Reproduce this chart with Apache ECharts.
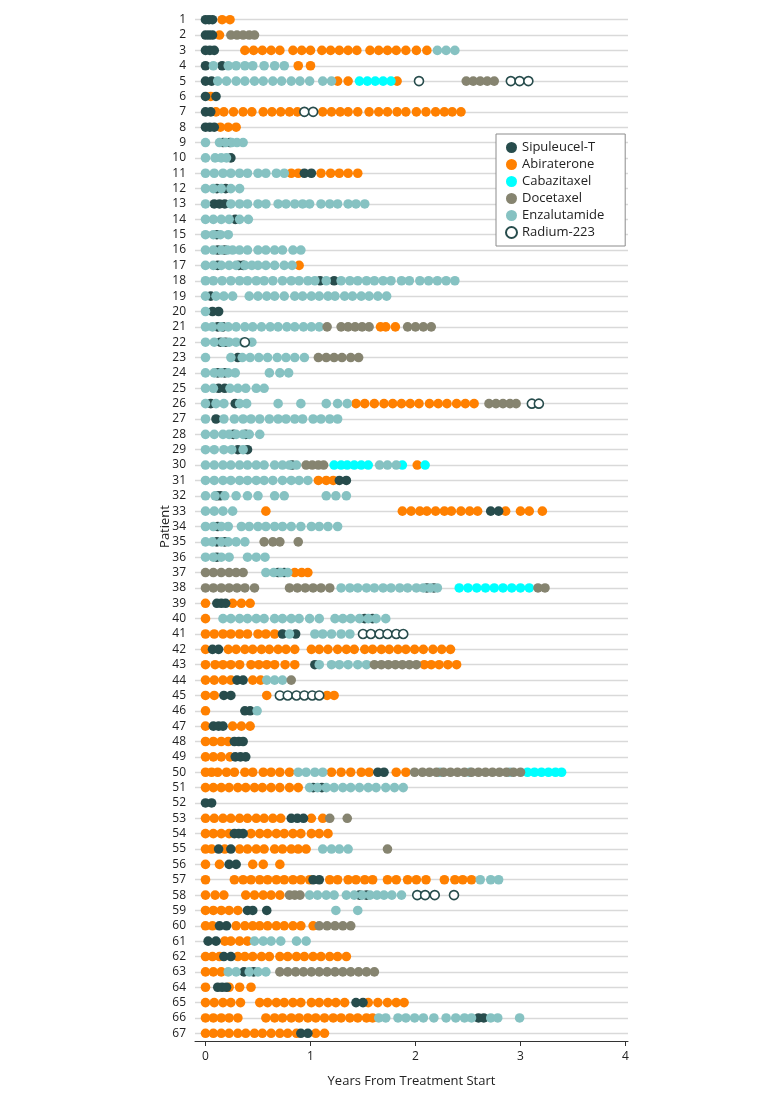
<!DOCTYPE html>
<html><head><meta charset="utf-8">
<script src="https://cdn.jsdelivr.net/npm/echarts@6/dist/echarts.min.js"></script>
<style>html,body{margin:0;padding:0;background:#fff}#chart{width:780px;height:1099px}</style>
</head><body><div id="chart"></div>
<script>
// Patient row labels (y axis) and x tick labels (years)
const patients = [1,2,3,4,5,6,7,8,9,10,11,12,13,14,15,16,17,18,19,20,21,22,23,24,25,26,27,28,29,30,31,32,33,34,35,36,37,38,39,40,41,42,43,44,45,46,47,48,49,50,51,52,53,54,55,56,57,58,59,60,61,62,63,64,65,66,67];
const xTicks = [0,1,2,3,4];

// Each entry: [patient, [visit times in months from treatment start]]
const sipuleucelT = [
[1,[0,0.4,0.8]],[2,[0,0.4,0.8]],[3,[0,0.5,1]],[4,[0,1.9]],[5,[0,0.7]],[6,[0,1.2]],[7,[0,0.6]],[8,[0,0.5,1]],
[9,[2.0,2.8]],[10,[2.9]],[11,[11.3,12.1]],[12,[1.3,2.3]],[13,[1,1.6,2.2]],[14,[3.4]],[15,[1.3]],[16,[1.4,2.2]],
[17,[1.4,3.8,4.3]],[18,[13.1,14.7]],[19,[0.6]],[20,[0.8,1.5]],[21,[1.4,2.0]],[22,[1.7,2.3]],[23,[3.7]],[24,[1.4,2.2]],
[25,[1.5,2.2]],[26,[0.6,3.4]],[27,[1.2]],[28,[3.2,4.6]],[29,[3.7,4.8]],[30,[9.9]],[31,[15.3,16.1]],[32,[1.3,1.7]],
[33,[32.6,33.5]],[34,[1.4]],[35,[1.3,2.2]],[36,[1.3]],[37,[8.3,9.0]],[38,[25.3,26.1]],[39,[1.3,1.8,2.3]],[40,[18.2,19.1]],
[41,[8.8,10.3]],[42,[0.8,1.5]],[43,[12.5]],[44,[3.6,4.3]],[45,[2.1,2.9]],[46,[4.5,5.1]],[47,[0.9,1.5,2.0]],[48,[3.3,3.8,4.3]],
[49,[3.4,4.0,4.6]],[50,[19.7,20.4]],[51,[12.3,13.3]],[52,[0,0.7]],[53,[9.8,10.5,11.2]],[54,[3.3,3.8,4.3]],[55,[1.5,2.9]],
[56,[2.7,3.5]],[57,[12.3,13.0]],[58,[17.6,18.4]],[59,[4.8,5.4,7]],[60,[1.6,2.4]],[61,[0.3,1.2]],[62,[2.1,2.9]],
[63,[4.4,5.5]],[64,[1.4,1.9,2.4]],[65,[17.2,18.0]],[66,[31.2,31.8]],[67,[10.9,11.7]]
];

const abiraterone = [
[1,[1.9,2.8]],[2,[1.6]],
[3,[4.5,5.5,6.5,7.5,8.5,10,11,12,13.3,14.3,15.3,16.3,17.3,18.8,19.8,20.8,21.8,22.9,24.1,25.3]],
[4,[10.6,12]],[5,[15.1,16.3,21.9]],[6,[0.6]],
[7,[1.2,2.1,3.2,4.3,5.3,6.6,7.6,8.6,9.6,10.5,13.4,14.4,15.4,16.3,17.4,18.7,19.8,20.8,21.9,22.9,24.1,25.2,26.3,27.3,28.2,29.2]],
[8,[1.7,2.6,3.5]],[11,[9.8,10.6,13.2,14.3,15.3,16.3,17.4]],[17,[10.7]],[21,[20.0,20.6,21.7]],
[26,[17.2,18.2,19.3,20.4,21.4,22.4,23.4,24.4,25.6,26.6,27.6,28.7,29.7,30.7]],
[30,[24.2]],[31,[12.9,13.8,14.6]],
[33,[6.9,22.5,23.5,24.5,25.3,26.3,27.3,28.1,29.2,30.2,31.1,34.3,36,37,38.5]],
[37,[10.2,11,11.7]],[39,[0,3.1,4.1,5.1]],[40,[0]],[41,[0,1,2,2.9,3.9,4.8,6,6.9,7.9]],
[42,[0,2.6,3.5,4.5,5.4,6.4,7.3,8.3,9.2,10.2,12.1,13,14,15.1,16.1,17,18.2,19.1,20.1,21,22,22.9,23.9,24.9,26,27,28]],
[43,[0,1.1,2,2.9,3.9,5.2,6.1,7,7.9,9.1,10.2,25,25.8,26.7,27.7,28.7]],
[44,[0,1,2,2.9,5.4,6.3]],[45,[0,1,7,13.9,14.7]],[46,[0]],[47,[0,3.1,4.1,5.1]],[48,[0,0.9,1.8,2.6]],[49,[0,0.9,1.8,2.8]],
[50,[0,0.7,1.4,2.4,3.3,4.5,5.4,6.6,7.5,8.5,9.6,14.4,15.5,16.6,17.8,18.7,21.8,22.9]],
[51,[0,0.9,1.8,2.7,3.7,4.6,5.6,6.5,7.5,8.5,9.6,10.6]],
[53,[0,1,2,2.9,3.9,4.8,5.8,6.7,7.7,8.6,12.1,13.4]],
[54,[0,0.9,1.8,2.7,5.2,6.2,7.1,8.1,9,10,10.9,12.1,13,14]],
[55,[0,0.7,2.2,3.9,4.8,5.8,6.7,7.9,8.8,9.8,10.6,11.5]],
[56,[0,1.6,5.4,6.6,8.5]],
[57,[0,3.3,4.3,5.2,6.2,7.1,8.1,9,10,10.9,11.9,14.2,15.1,16.3,17.2,18.2,19.1,20.8,21.8,23.1,24.1,25.2,27.3,28.5,29.4,30.4]],
[58,[0,1.1,2.1,4.6,5.6,6.6,7.5,8.5]],[59,[0,0.9,1.8,2.7,3.7]],
[60,[0,0.8,3.5,4.5,5.4,6.2,7.1,8.1,9,10,10.9,12.3]],[61,[2.2,2.9,3.9,4.8]],
[62,[0,0.8,1.6,3.7,4.5,5.4,6.4,7.3,8.5,9.4,10.4,11.3,12.3,13.2,14.2,15.1,16.1]],
[63,[0,0.9,1.8]],[64,[0,2.7,3.9,5.2]],
[65,[0,1,2,2.9,4,6.2,7.1,8.1,9,10,10.9,12.1,13,14,14.9,15.9,18.6,19.7,20.8,21.8,22.7]],
[66,[0,0.9,1.8,2.7,3.7,6.9,7.9,8.8,9.8,10.7,11.7,12.6,13.6,14.6,15.5,16.5,17.4,18.4,19.1]],
[67,[0,0.9,1.8,2.7,3.7,4.6,5.6,6.5,7.5,8.5,9.4,10.4,12.6,13.6]]
];

const cabazitaxel = [
[5,[17.6,18.5,19.4,20.3,21.2]],
[30,[14.7,15.5,16.2,17,17.8,18.6,22.5,25.1]],
[38,[29,30,31,32,33,34,35,36,37]],
[50,[36.8,37.6,38.4,39.2,40,40.7]]
];

const docetaxel = [
[2,[2.9,3.6,4.3,5,5.6]],[5,[29.8,30.6,31.4,32.2,33]],
[21,[13.9,15.5,16.3,17.1,17.9,18.7,23.1,24,24.9,25.8]],
[23,[12.9,13.8,14.7,15.6,16.6,17.5]],[26,[32.4,33.2,34,34.8,35.5]],[30,[11.5,12.2,12.9,13.5]],
[35,[6.7,7.7,8.5,10.6]],[37,[0,0.9,1.8,2.7,3.5,4.3]],
[38,[0,0.9,1.8,2.7,3.6,4.5,5.6,9.6,10.5,11.4,12.3,13.2,14.2,38,38.8]],
[43,[19.3,20.1,20.9,21.7,22.5,23.3,24.1]],[44,[9.8]],
[50,[23.9,24.8,25.6,26.4,27.2,28,28.8,29.6,30.4,31.2,32,32.8,33.6,34.4,35.2,36]],
[53,[14.2,16.2]],[55,[20.8]],[58,[9.6,10.2,10.8]],[60,[13,13.9,14.8,15.7,16.6]],
[63,[8.5,9.4,10.3,11.2,12.1,13,13.9,14.8,15.7,16.6,17.5,18.4,19.3]]
];

const enzalutamide = [
[3,[26.5,27.5,28.5]],[4,[0.9,2.6,3.5,4.5,5.4,6.7,7.9,9.0]],
[5,[1.4,2.4,3.5,4.5,5.6,6.6,7.7,8.7,9.8,10.8,11.9,13.4,14.4]],
[9,[0,1.6,2.3,3.0,3.6,4.3]],[10,[0,1.1,1.8,2.4]],[11,[0,1,2,2.9,3.9,4.8,6,6.9,8.1,9.0]],
[12,[0,0.9,1.8,2.9,3.9]],
[13,[0,2.9,3.9,4.8,6,6.9,8.3,9.2,10.2,11.1,11.9,13.2,14.2,15.1,16.3,17.2,18.2]],
[14,[0,0.9,1.8,2.7,3.9,4.9]],[15,[0,0.9,1.7,2.6]],
[16,[0,0.9,1.8,2.5,3.1,3.9,4.8,6,6.9,7.9,8.8,10,10.9]],
[17,[0,0.9,1.8,2.7,3.5,4.5,5.3,6,6.9,7.9,9,9.9]],
[18,[0,0.9,1.9,2.9,3.9,4.8,5.8,6.7,7.7,8.8,9.8,10.7,11.7,12.5,13.8,15.5,16.5,17.4,18.4,19.3,20.3,21.2,22.4,23.3,24.5,25.5,26.5,27.5,28.5]],
[19,[0,1.2,2.1,3.1,5,6,7,7.9,9,10.2,11.1,12.1,13,14,14.8,15.9,16.8,17.8,18.7,19.7,20.7]],
[20,[0]],[21,[0,0.8,1.8,2.6,3.5,4.5,5.4,6.4,7.4,8.3,9.3,10.2,11.2,12.1,13.0]],
[22,[0,1,2,2.7,3.5,4.3,5.3]],[23,[0,2.9,4.2,5.1,6.1,7.1,8.2,9.2,10.2,11.3]],
[24,[0,1,1.8,2.6,3.4,7.3,8.5,9.5]],[25,[0,0.9,2.8,3.7,4.6,5.8,6.7]],
[26,[0,1.2,2.1,3.9,4.7,8.3,10.9,13.8,15.1,16.2]],
[27,[0,2.1,3.3,4.3,5.2,6.2,7.3,8.3,9.2,10.2,11.1,12.3,13.2,14.2,15.1]],
[28,[0,1,2,2.7,3.5,4.3,5,6.2]],[29,[0,1,2.1,3.0,4.3]],
[30,[0,1,2,2.9,3.9,4.8,5.8,6.7,7.9,8.8,9.6,10.4,19.9,20.8,21.8]],
[31,[0,1,2,2.9,3.9,4.8,5.8,6.7,7.7,8.8,9.8,10.7,11.7]],
[32,[0,1.1,2.2,3.5,4.8,6.0,7.9,9.0,13.8,14.9,16.1]],[33,[0,1,2,3.1]],
[34,[0,0.9,1.8,2.6,4.1,5,6,6.9,7.9,8.8,9.8,10.9,12.1,13,14,15.1]],
[35,[0,0.8,1.8,2.6,3.5,4.5]],[36,[0,0.9,1.8,2.7,4.8,5.8,6.8]],[37,[6.9,7.8,8.6,9.4]],
[38,[15.5,16.5,17.4,18.4,19.3,20.3,21.2,22.2,23.1,24.1,24.9,25.7,26.5]],
[40,[2,2.9,3.9,4.8,5.8,6.7,7.9,8.8,9.8,10.7,11.9,13,14.8,15.7,16.6,17.6,18.6,19.5,20.6]],
[41,[9.6,12.5,13.4,14.4,15.5,16.5]],[43,[13,14.4,15.3,16.3,17.4,18.4]],[44,[7,7.9,8.8]],[46,[5.9]],
[50,[10.6,11.5,12.5,13.4,26.8,30.2,34.8]],
[51,[11.9,12.8,13.8,14.7,15.7,16.6,17.6,18.6,19.5,20.6,21.6,22.6]],
[55,[13.4,14.4,15.3,16.3]],[57,[31.4,32.6,33.5]],
[58,[11.9,12.8,13.8,14.7,16.1,17,17.9,18.8,19.6,20.4,21.3,22.4]],
[59,[14.9,17.4]],[61,[5.6,6.6,7.5,8.6,10.4,11.5]],[63,[2.6,3.5,5,6,6.9]],
[66,[19.8,20.6,22,22.9,23.9,24.9,26.1,27.5,28.6,29.6,30.4,32.6,33.4,35.9]]
];

const radium223 = [
[5,[24.4,34.9,35.9,36.9]],[7,[11.3,12.3]],[22,[4.5]],[26,[37.3,38.1]],
[41,[18,18.9,19.9,20.8,21.8,22.6]],[45,[8.5,9.4,10.4,11.3,12.2,13]],[58,[24.2,25.1,26.2,28.4]]
];

function toPoints(list) {
  const out = [];
  list.forEach(function (row) {
    row[1].forEach(function (m) { out.push([m / 12, row[0]]); });
  });
  return out;
}

const FONT = 'Open Sans';
const C = {
  sip: '#274c4c', abi: '#ff8000', cab: '#00ffff', doc: '#868470', enz: '#86c2c2'
};
function dotSeries(name, list, color, z) {
  return {
    name: name, type: 'scatter', data: toPoints(list), symbol: 'circle', symbolSize: 9.6,
    z: z, itemStyle: { color: color, opacity: 1 }, emphasis: { disabled: true }, silent: true
  };
}

const chart = echarts.init(document.getElementById('chart'), null, { renderer: 'canvas' });
chart.setOption({
  animation: false,
  backgroundColor: '#ffffff',
  textStyle: { fontFamily: FONT },
  grid: { left: 195, top: 12, width: 433, height: 1029, containLabel: false },
  legend: {
    data: ['Sipuleucel-T', 'Abiraterone', 'Cabazitaxel', 'Docetaxel', 'Enzalutamide', 'Radium-223'],
    orient: 'vertical', left: 496, top: 134,
    backgroundColor: '#ffffff', borderColor: '#8c8c8c', borderWidth: 1, borderRadius: 0,
    padding: [7, 21, 7, 9], itemGap: 4, itemWidth: 11, itemHeight: 11,
    icon: 'circle',
    textStyle: { fontFamily: FONT, fontSize: 13, color: '#222' },
    selectedMode: false
  },
  xAxis: {
    type: 'value', min: -0.1, max: 4.024,
    name: 'Years From Treatment Start', nameLocation: 'middle', nameGap: 34, nameMoveOverlap: false,
    nameTextStyle: { fontFamily: FONT, fontSize: 13, color: '#222' },
    axisLine: { show: true, lineStyle: { color: '#333', width: 1 } },
    axisTick: { show: true, length: 5, customValues: xTicks, lineStyle: { color: '#333' } },
    axisLabel: { customValues: xTicks, fontFamily: FONT, fontSize: 12, color: '#222', margin: 10 },
    splitLine: { show: false }
  },
  yAxis: {
    type: 'value', min: 0.5, max: 67.5, inverse: true,
    name: 'Patient', nameLocation: 'middle', nameGap: 23, nameMoveOverlap: false,
    nameTextStyle: { fontFamily: FONT, fontSize: 13, color: '#222' },
    axisLine: { show: false },
    axisTick: { show: false, customValues: patients },
    axisLabel: { customValues: patients, fontFamily: FONT, fontSize: 12, color: '#222', margin: 9 },
    splitLine: { show: true, lineStyle: { color: '#d9d9d9', width: 1.3 } }
  },
  series: [
    dotSeries('Abiraterone', abiraterone, C.abi, 2),
    dotSeries('Sipuleucel-T', sipuleucelT, C.sip, 3),
    dotSeries('Cabazitaxel', cabazitaxel, C.cab, 4),
    dotSeries('Enzalutamide', enzalutamide, C.enz, 5),
    dotSeries('Docetaxel', docetaxel, C.doc, 6),
    {
      name: 'Radium-223', type: 'scatter', data: toPoints(radium223), symbol: 'circle', symbolSize: 9,
      z: 7, itemStyle: { color: '#ffffff', borderColor: C.sip, borderWidth: 1.6, opacity: 1 },
      emphasis: { disabled: true }, silent: true
    }
  ]
});
</script></body></html>
